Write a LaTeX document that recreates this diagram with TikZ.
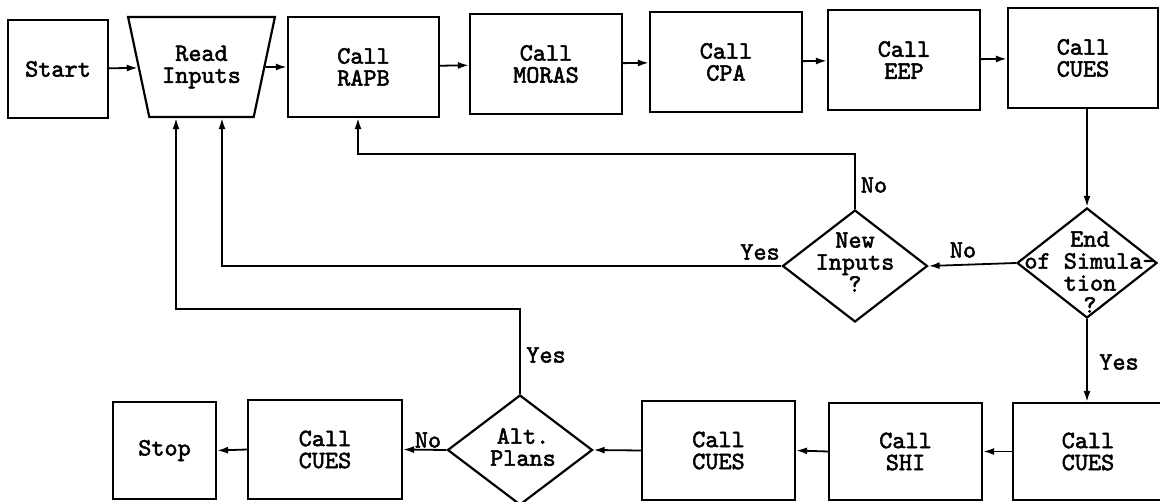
\documentclass[tikz,border=0pt]{standalone}
\usepackage{fontspec}
\newfontfamily\tw[FakeBold=2]{lmmono10-regular.otf}
\usetikzlibrary{arrows.meta,shapes.geometric}
\begin{document}
\begin{tikzpicture}[x=1pt,y=-1pt,
  txtfont/.style={font=\tw\fontsize{25pt}{22pt}\selectfont},
  box/.style={draw, line width=2.2pt, inner sep=0pt, align=center, txtfont},
  dia/.style={draw, diamond, line width=2.2pt, inner sep=0pt},
  txt/.style={inner sep=0pt, align=center, txtfont},
  arr/.style={line width=1.8pt, -{Latex[length=11pt,width=7pt]}},
  ln/.style={line width=1.8pt}]
\fill[white] (0,0) rectangle (1160,502);
\useasboundingbox (0,0) rectangle (1160,502);
\clip (0,0) rectangle (1160,502);

% top row
\node[box, minimum width=100pt, minimum height=98pt] (start) at (58,69) {Start};
\node[box, trapezium, shape border rotate=180, trapezium left angle=69.5, trapezium right angle=69.5,
      trapezium stretches=true, minimum width=147pt, minimum height=100pt] (read) at (201.5,67) {Read\\Inputs};
\node[box, minimum width=151pt, minimum height=100pt] (rapb) at (363.5,67) {Call\\RAPB};
\node[box, minimum width=152pt, minimum height=100pt] (moras) at (546,64) {Call\\MORAS};
\node[box, minimum width=152pt, minimum height=100pt] (cpa) at (726,62) {Call\\CPA};
\node[box, minimum width=152pt, minimum height=100pt] (eep) at (904,60) {Call\\EEP};
\node[box, minimum width=150pt, minimum height=100pt] (cuesA) at (1083,58) {Call\\CUES};

% decisions
\node[dia, minimum width=140pt, minimum height=110pt] (endsim) at (1087,263) {};
\node[txt] (endtxt) at (1090,272) {End\\of Simula-\\tion\\?};
\node[dia, minimum width=145pt, minimum height=112pt] (newin) at (855,266) {};
\node[txt] (newtxt) at (855,262) {New\\Inputs\\?};
\node[dia, minimum width=145pt, minimum height=110pt] (alt) at (520,450) {};
\node[txt] (alttxt) at (523,447) {Alt.\\Plans};

% bottom row
\node[box, minimum width=103pt, minimum height=97pt] (stop) at (164.5,450.5) {Stop};
\node[box, minimum width=154pt, minimum height=99pt] (cuesD) at (325,449.5) {Call\\CUES};
\node[box, minimum width=153pt, minimum height=99pt] (cuesC) at (718.5,450.5) {Call\\CUES};
\node[box, minimum width=153pt, minimum height=97pt] (shi) at (905.5,451.5) {Call\\SHI};
\node[box, minimum width=150pt, minimum height=97pt] (cuesB) at (1088,451.5) {Call\\CUES};

% top row connectors
\draw[arr] (start) -- (read);
\draw[arr] (read) -- (rapb);
\draw[arr] (rapb) -- (moras);
\draw[arr] (moras) -- (cpa);
\draw[arr] (cpa) -- (eep);
\draw[arr] (eep) -- (cuesA);
\draw[arr] (cuesA.south -| endsim.north) -- (endsim.north);

% decision connectors
\draw[arr] (endsim.west) -- (newin.east);
\coordinate (noC) at (358,154);
\draw[arr] (newin.north) |- (noC) -- (rapb.south -| noC);
\coordinate (yesC) at (222,267);
\draw[arr] (newin.west) -| (read.south -| yesC);
\draw[arr] (endsim.south) -- (endsim.south |- cuesB.north);

% bottom connectors
\draw[arr] (cuesB.west) -- (shi.east);
\draw[arr] (shi.west) -- (cuesC.east);
\draw[arr] (cuesC.west) -- (alt.east);
\draw[arr] (alt.west) -- (cuesD.east);
\draw[arr] (cuesD.west) -- (stop.east);
\coordinate (altC) at (176,309);
\draw[arr] (alt.north) |- (altC) -- (read.south -| altC);

% labels
\node[txt] (lb1) at (963,250) {No};
\node[txt] (lb2) at (760,252) {Yes};
\node[txt] (lb3) at (874,185) {No};
\node[txt] (lb4) at (546,355) {Yes};
\node[txt] (lb5) at (1119,362) {Yes};
\node[txt] (lb6) at (428,440) {No};
\end{tikzpicture}
\end{document}
